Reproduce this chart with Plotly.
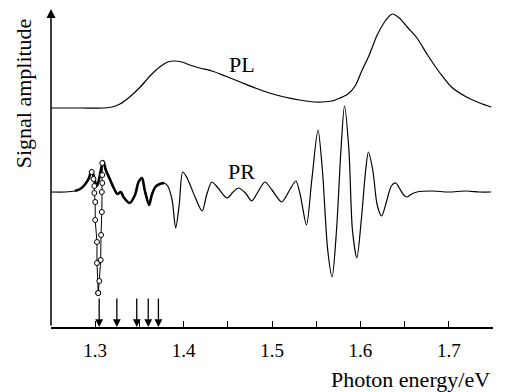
import plotly.graph_objects as go

# ---- data ----
pl_energy = [1.250, 1.283, 1.311, 1.319, 1.328, 1.339, 1.351, 1.362, 1.373, 1.382,
             1.390, 1.398, 1.407, 1.418, 1.432, 1.447, 1.464, 1.481, 1.497, 1.514,
             1.531, 1.548, 1.557, 1.568, 1.577, 1.586, 1.594, 1.601, 1.610, 1.619,
             1.629, 1.636, 1.644, 1.653, 1.664, 1.676, 1.690, 1.703, 1.720, 1.735, 1.748]
pl_signal = [219, 219, 219, 220, 223, 230, 240, 251, 260, 265,
             266, 265, 262, 259, 256, 251, 245, 239, 234, 230,
             227, 225, 225, 226, 229, 233, 241, 255, 272, 292,
             307, 313, 309, 300, 289, 272, 254, 240, 230, 224, 220]

pr_energy = [1.250, 1.266, 1.277, 1.283, 1.288, 1.293, 1.296, 1.302, 1.309, 1.312,
             1.317, 1.321, 1.325, 1.329, 1.332, 1.339, 1.345, 1.349, 1.353, 1.356,
             1.361, 1.364, 1.368, 1.373, 1.378, 1.382, 1.387, 1.391, 1.395, 1.399,
             1.404, 1.407, 1.413, 1.421, 1.426, 1.432, 1.439, 1.449, 1.456, 1.462,
             1.470, 1.477, 1.484, 1.492, 1.500, 1.511, 1.520, 1.527, 1.532, 1.539,
             1.545, 1.552, 1.557, 1.563, 1.568, 1.573, 1.578, 1.582, 1.587, 1.591,
             1.596, 1.601, 1.606, 1.609, 1.614, 1.619, 1.624, 1.630, 1.635, 1.640,
             1.644, 1.649, 1.653, 1.658, 1.664, 1.680, 1.700, 1.720, 1.735, 1.748]
pr_signal = [135, 135, 136, 138, 142, 149, 157, 141, 166, 157,
             147, 139, 133, 135, 130, 124, 132, 145, 149, 137,
             122, 132, 140, 143, 144, 141, 127, 99, 122, 155,
             149, 143, 130, 116, 132, 145, 139, 129, 135, 139,
             134, 126, 135, 145, 137, 125, 137, 146, 132, 102,
             147, 197, 157, 77, 50, 97, 177, 221, 177, 97,
             69, 107, 157, 175, 157, 122, 111, 127, 141, 144,
             139, 132, 130, 133, 135, 136, 135, 136, 135, 135]
dense_start, dense_end = 2, 25  # indices of densely sampled (thick) part

left_energy = [1.296, 1.298, 1.299, 1.299, 1.300, 1.300, 1.302, 1.302, 1.3034]
left_signal = [155, 148, 141, 134, 125, 107, 85, 64, 34]
right_energy = [1.308, 1.308, 1.308, 1.3075, 1.3075, 1.3066, 1.3062, 1.3046, 1.3034]
right_signal = [164, 152, 144, 135, 115, 92, 67, 46, 34]

arrow_energy = [1.3045, 1.3245, 1.347, 1.360, 1.3715]
arrow_top = 30

x_ticks = [1.3, 1.4, 1.5, 1.6, 1.7]
x_labels = ["1.3", "1.4", "1.5", "1.6", "1.7"]
x_minor = [1.35, 1.45, 1.55, 1.65, 1.75]

FONT = "Liberation Serif, Times New Roman, serif"

fig = go.Figure()
line = dict(color="black", width=1.2, shape="spline", smoothing=0.8)
fig.add_trace(go.Scatter(x=pl_energy, y=pl_signal, mode="lines", line=line))
fig.add_trace(go.Scatter(x=pr_energy, y=pr_signal, mode="lines", line=line))
fig.add_trace(go.Scatter(x=pr_energy[dense_start:dense_end], y=pr_signal[dense_start:dense_end],
                         mode="lines", line=dict(color="black", width=2.6, shape="spline", smoothing=0.8)))
for xe, ys in [(left_energy, left_signal), (right_energy, right_signal)]:
    fig.add_trace(go.Scatter(x=xe, y=ys, mode="lines+markers",
                             line=dict(color="black", width=1),
                             marker=dict(symbol="circle", size=5, color="white",
                                         line=dict(color="black", width=1))))

annotations = []
for e in arrow_energy:
    annotations.append(dict(x=e, y=0, ax=e, ay=arrow_top, xref="x", yref="y", axref="x", ayref="y",
                            showarrow=True, arrowhead=2, arrowsize=1.2, arrowwidth=1.3,
                            arrowcolor="black", text=""))
# y axis arrow
annotations.append(dict(x=1.25, y=318, ax=1.25, ay=0, xref="x", yref="y", axref="x", ayref="y",
                        showarrow=True, arrowhead=2, arrowsize=1.2, arrowwidth=1.5,
                        arrowcolor="black", text=""))
annotations.append(dict(x=1.4658, y=263, xref="x", yref="y", text="PL", showarrow=False,
                        font=dict(family=FONT, size=22, color="black")))
annotations.append(dict(x=1.4653, y=155.5, xref="x", yref="y", text="PR", showarrow=False,
                        font=dict(family=FONT, size=22, color="black")))
annotations.append(dict(x=0.998, y=-0.166, xref="paper", yref="paper", xanchor="right", yanchor="middle",
                        text="Photon energy/eV", showarrow=False,
                        font=dict(family=FONT, size=22, color="black")))
annotations.append(dict(x=-0.063, y=0.733, xref="paper", yref="paper", xanchor="center", yanchor="middle",
                        text="Signal amplitude", textangle=-90, showarrow=False,
                        font=dict(family=FONT, size=22, color="black")))

# page body has an 8px margin: figure sized so it fills the 505x392 window
fig.update_layout(
    width=497, height=384,
    margin=dict(l=43, r=12, t=0, b=65),
    plot_bgcolor="white", paper_bgcolor="white",
    showlegend=False,
    annotations=annotations,
    xaxis=dict(range=[1.25, 1.75], showgrid=False, zeroline=False, showline=True,
               linecolor="black", linewidth=1.5, ticks="inside", ticklen=6, tickwidth=1.2,
               tickcolor="black", tickvals=x_ticks, ticktext=x_labels,
               tickfont=dict(family=FONT, size=19, color="black"), ticklabelstandoff=5,
               minor=dict(tickvals=x_minor, ticks="inside", ticklen=6,
                          tickwidth=1.2, tickcolor="black")),
    yaxis=dict(range=[0, 319], showgrid=False, zeroline=False, showline=False,
               showticklabels=False, ticks=""),
)

fig.write_html("out.html")
